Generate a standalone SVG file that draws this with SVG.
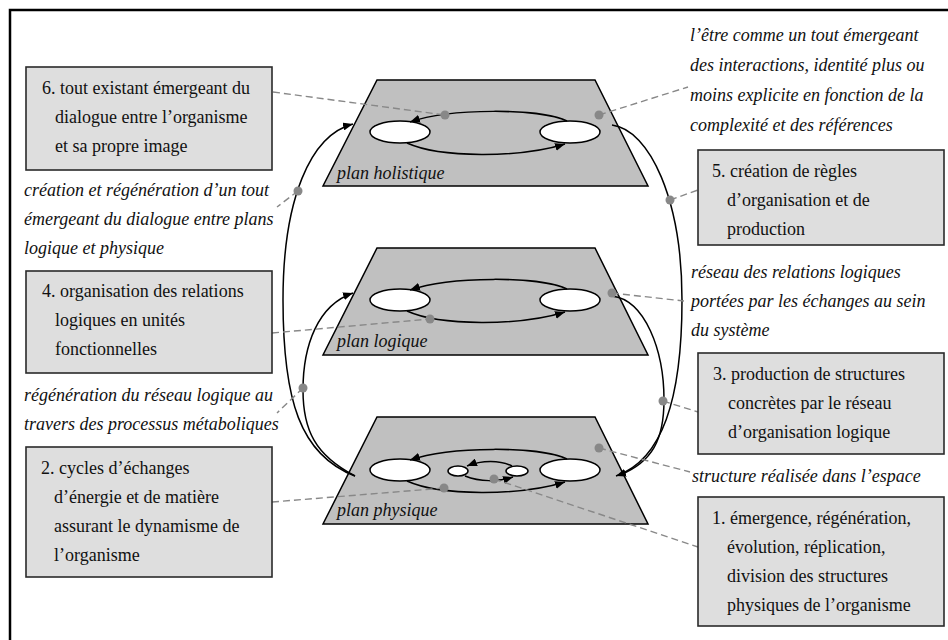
<svg xmlns="http://www.w3.org/2000/svg" width="948" height="640" viewBox="0 0 948 640">
  <style>
    .frame { fill: none; stroke: #000; stroke-width: 2.5; }
    .plane { fill: #c0c0c0; stroke: #000; stroke-width: 1.5; stroke-linejoin: miter; }
    .cell { fill: #fff; stroke: #000; stroke-width: 1.5; }
    .flow { fill: none; stroke: #000; stroke-width: 1.5; }
    .big { fill: none; stroke: #000; stroke-width: 1.5; }
    .lead { fill: none; stroke: #888; stroke-width: 1.4; stroke-dasharray: 7 4; }
    .dot { fill: #888; }
    .box { fill: #dedede; stroke: #2a2a2a; stroke-width: 1.6; }
    .bt { font-family: "Liberation Serif", "Times New Roman", serif; font-size: 18px; fill: #111; }
    .it { font-family: "Liberation Serif", "Times New Roman", serif; font-size: 18px; font-style: italic; fill: #111; }
    .pl { font-family: "Liberation Serif", "Times New Roman", serif; font-size: 18px; font-style: italic; fill: #111; }
  </style>
  <defs>
    <marker id="ah" viewBox="0 0 10 8" refX="10" refY="4" markerWidth="10" markerHeight="8" markerUnits="userSpaceOnUse" orient="auto">
      <path d="M0,0 L10,4 L0,8 z" fill="#000"/>
    </marker>
  </defs>

  <rect width="948" height="640" fill="#fff"/>
  <path class="frame" d="M10,640 V10 H948"/>

  <!-- three planes -->
  <g id="plane-holistique">
    <polygon class="plane" points="377,80 595,80 648,186 323,186"/>
    <ellipse class="cell" cx="400" cy="132" rx="30" ry="11"/>
    <ellipse class="cell" cx="570" cy="132" rx="30" ry="11"/>
    <path class="flow" d="M567,121 C540,108 450,108 410,122" marker-end="url(#ah)"/>
    <path class="flow" d="M407,143 C440,158 520,158 565,144" marker-end="url(#ah)"/>
    <text class="pl" x="337" y="179">plan holistique</text>
  </g>

  <g id="plane-logique">
    <polygon class="plane" points="377,248 595,248 648,355 323,355"/>
    <ellipse class="cell" cx="400" cy="300" rx="30" ry="11"/>
    <ellipse class="cell" cx="570" cy="300" rx="30" ry="11"/>
    <path class="flow" d="M567,289 C540,276 450,276 410,290" marker-end="url(#ah)"/>
    <path class="flow" d="M407,311 C440,326 520,326 565,312" marker-end="url(#ah)"/>
    <text class="pl" x="337" y="347">plan logique</text>
  </g>

  <g id="plane-physique">
    <polygon class="plane" points="377,417 595,417 648,524 323,524"/>
    <ellipse class="cell" cx="400" cy="470" rx="30" ry="11"/>
    <ellipse class="cell" cx="570" cy="470" rx="30" ry="11"/>
    <ellipse class="cell" cx="458" cy="471" rx="10" ry="5"/>
    <ellipse class="cell" cx="517" cy="471" rx="11" ry="5"/>
    <path class="flow" d="M567,459 C540,446 450,446 410,460" marker-end="url(#ah)"/>
    <path class="flow" d="M407,481 C440,496 520,496 565,482" marker-end="url(#ah)"/>
    <path class="flow" d="M512,466 C500,460 482,460 467,466" marker-end="url(#ah)"/>
    <path class="flow" d="M465,476 C480,482 498,482 513,477" marker-end="url(#ah)"/>
    <text class="pl" x="337" y="516">plan physique</text>
  </g>

  <!-- feedback loops between planes, dashed leaders and their anchor dots -->
  <g id="connectors">
    <path class="big" d="M355,476 C300,455 283,400 283,300 C283,200 310,135 353,124" marker-end="url(#ah)"/>
    <path class="big" d="M355,476 C315,455 303,430 303,390 C303,345 318,305 353,293" marker-end="url(#ah)"/>
    <path class="big" d="M612,125 C650,130 682,200 682,300 C682,400 662,460 616,476" marker-end="url(#ah)"/>
    <path class="big" d="M612,296 C645,300 664,350 664,400 C664,440 652,462 620,475"/>

    <path class="lead" d="M273,92 L445,115"/>
    <path class="lead" d="M599,115 L688,87"/>
    <path class="lead" d="M670,200 L698,190"/>
    <path class="lead" d="M298,191 L277,207"/>
    <path class="lead" d="M272,333 L430,319"/>
    <path class="lead" d="M612,293 L684,301"/>
    <path class="lead" d="M303,388 L277,413"/>
    <path class="lead" d="M663,401 L698,412"/>
    <path class="lead" d="M272,502 L444,488"/>
    <path class="lead" d="M599,448 L690,472"/>
    <path class="lead" d="M494,479 L698,547"/>

    <circle class="dot" cx="445" cy="115" r="4.5"/>
    <circle class="dot" cx="599" cy="115" r="4.5"/>
    <circle class="dot" cx="670" cy="200" r="4.5"/>
    <circle class="dot" cx="298" cy="191" r="4.5"/>
    <circle class="dot" cx="430" cy="319" r="4.5"/>
    <circle class="dot" cx="612" cy="293" r="4.5"/>
    <circle class="dot" cx="303" cy="388" r="4.5"/>
    <circle class="dot" cx="663" cy="401" r="4.5"/>
    <circle class="dot" cx="444" cy="488" r="4.5"/>
    <circle class="dot" cx="599" cy="448" r="4.5"/>
    <circle class="dot" cx="494" cy="479" r="4.5"/>
  </g>

  <!-- numbered boxes -->
  <g id="box-6">
    <rect class="box" x="26" y="67" width="246" height="103"/>
    <text class="bt" x="42" y="94">6. tout existant émergeant du</text>
    <text class="bt" x="55" y="123">dialogue entre l’organisme</text>
    <text class="bt" x="55" y="152">et sa propre image</text>
  </g>
  <g id="box-4">
    <rect class="box" x="26" y="271" width="246" height="102"/>
    <text class="bt" x="42" y="297">4. organisation des relations</text>
    <text class="bt" x="55" y="326">logiques en unités</text>
    <text class="bt" x="55" y="355">fonctionnelles</text>
  </g>
  <g id="box-2">
    <rect class="box" x="26" y="447" width="246" height="130"/>
    <text class="bt" x="41" y="474">2. cycles d’échanges</text>
    <text class="bt" x="54" y="503">d’énergie et de matière</text>
    <text class="bt" x="54" y="532">assurant le dynamisme de</text>
    <text class="bt" x="54" y="561">l’organisme</text>
  </g>
  <g id="box-5">
    <rect class="box" x="698" y="150" width="246" height="95"/>
    <text class="bt" x="712" y="177">5. création de règles</text>
    <text class="bt" x="727" y="206">d’organisation et de</text>
    <text class="bt" x="727" y="235">production</text>
  </g>
  <g id="box-3">
    <rect class="box" x="698" y="353" width="246" height="101"/>
    <text class="bt" x="713" y="380">3. production de structures</text>
    <text class="bt" x="728" y="409">concrètes par le réseau</text>
    <text class="bt" x="728" y="438">d’organisation logique</text>
  </g>
  <g id="box-1">
    <rect class="box" x="698" y="497" width="246" height="129"/>
    <text class="bt" x="712" y="524">1. émergence, régénération,</text>
    <text class="bt" x="727" y="553">évolution, réplication,</text>
    <text class="bt" x="727" y="582">division des structures</text>
    <text class="bt" x="727" y="611">physiques de l’organisme</text>
  </g>

  <!-- italic captions -->
  <g id="caption-holistique-right">
    <text class="it" x="690" y="41">l’être comme un tout émergeant</text>
    <text class="it" x="690" y="71">des interactions, identité plus ou</text>
    <text class="it" x="690" y="101">moins explicite en fonction de la</text>
    <text class="it" x="690" y="131">complexité et des références</text>
  </g>
  <g id="caption-loop-outer">
    <text class="it" x="24" y="196">création et régénération d’un tout</text>
    <text class="it" x="24" y="225">émergeant du dialogue entre plans</text>
    <text class="it" x="24" y="254">logique et physique</text>
  </g>
  <g id="caption-logique-right">
    <text class="it" x="691" y="278">réseau des relations logiques</text>
    <text class="it" x="691" y="307">portées par les échanges au sein</text>
    <text class="it" x="691" y="336">du système</text>
  </g>
  <g id="caption-loop-inner">
    <text class="it" x="24" y="401">régénération du réseau logique au</text>
    <text class="it" x="24" y="430">travers des processus métaboliques</text>
  </g>
  <g id="caption-physique-right">
    <text class="it" x="692" y="482">structure réalisée dans l’espace</text>
  </g>
</svg>
